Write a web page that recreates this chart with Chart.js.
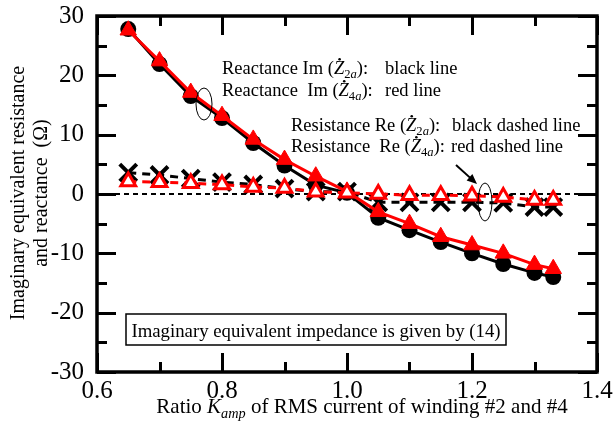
<!DOCTYPE html>
<html>
<head>
<meta charset="utf-8">
<script src="https://cdn.jsdelivr.net/npm/chart.js@4"></script>
<style>
  body { margin: 0; background: #fff; }
  canvas { display: block; }
</style>
</head>
<body>
<canvas id="chart" width="615" height="434"></canvas>
<script>
// ratio K_amp of RMS current of winding #2 and #4
const kamp = [0.65, 0.7, 0.75, 0.8, 0.85, 0.9, 0.95, 1.0, 1.05, 1.1, 1.15, 1.2, 1.25, 1.3, 1.33];

// reactance Im(Z2a) black line, Im(Z4a) red line
const imZ2a = [27.8, 21.9, 16.5, 12.8, 8.6, 4.8, 1.5, 0.2, -4.0, -6.1, -8.1, -10.0, -11.8, -13.3, -14.0];
const imZ4a = [27.6, 22.4, 17.1, 13.2, 9.2, 5.8, 3.0, 0.4, -3.0, -5.0, -7.2, -8.6, -10.0, -11.9, -12.6];

// resistance Re(Z2a) black dashed, Re(Z4a) red dashed
const reZ2a = [3.6, 3.2, 2.6, 2.0, 1.6, 0.9, 0.4, 0.4, -1.4, -1.4, -1.4, -1.4, -1.5, -2.2, -2.2];
const reZ4a = [2.1, 2.0, 1.8, 1.6, 1.2, 1.0, 0.4, 0.2, 0.0, -0.2, -0.2, -0.3, -0.5, -1.0, -1.0];

const zeroX = [0.6, 1.4];
const zeroY = [0, 0];

const xTicks = [0.6, 0.8, 1.0, 1.2, 1.4];
const yTicks = [-30, -20, -10, 0, 10, 20, 30];

const FONT = '"Liberation Serif", "Times New Roman", serif';

const pts = (xs, ys) => xs.map((x, i) => ({ x: x, y: ys[i] }));

// draws text made of parts: [text, {i: italic, sub: subscript, dot: dot above}]
function rich(ctx, x, y, parts, size) {
  parts.forEach(([t, o]) => {
    o = o || {};
    const s = o.sub ? size * 0.68 : size;
    ctx.font = (o.i ? 'italic ' : '') + s + 'px ' + FONT;
    const yy = o.sub ? y + size * 0.22 : y;
    ctx.fillText(t, x, yy);
    const w = ctx.measureText(t).width;
    if (o.dot) {
      ctx.beginPath();
      ctx.arc(x + w * 0.55, y - size * 0.8, 1.3, 0, Math.PI * 2);
      ctx.fill();
    }
    x += w;
  });
  return x;
}

function richWidth(ctx, parts, size) {
  let w = 0;
  parts.forEach(([t, o]) => {
    o = o || {};
    const s = o.sub ? size * 0.68 : size;
    ctx.font = (o.i ? 'italic ' : '') + s + 'px ' + FONT;
    w += ctx.measureText(t).width;
  });
  return w;
}

// italic Z with a dot, subscript "na"
const Z = (n) => [['Z', { i: true, dot: true }], [n, { sub: true }], ['a', { sub: true, i: true }]];

const decor = {
  id: 'decor',
  afterDraw(chart) {
    const ctx = chart.ctx;
    const a = chart.chartArea;
    const xs = chart.scales.x, ys = chart.scales.y;
    ctx.save();
    ctx.strokeStyle = '#000';
    ctx.fillStyle = '#000';
    ctx.lineCap = 'butt';

    // inward ticks on all sides
    ctx.lineWidth = 3;
    for (let v = 0.6; v <= 1.4001; v += 0.1) {
      const px = Math.round(xs.getPixelForValue(v)) + 0.5;
      const major = Math.round(v * 10) % 2 === 0;
      const len = major ? 19 : 10;
      ctx.beginPath();
      ctx.moveTo(px, a.bottom); ctx.lineTo(px, a.bottom - len);
      ctx.moveTo(px, a.top); ctx.lineTo(px, a.top + len);
      ctx.stroke();
    }
    for (let v = -30; v <= 30; v += 5) {
      const py = Math.round(ys.getPixelForValue(v)) + 0.5;
      const len = v % 10 === 0 ? 19 : 10;
      ctx.beginPath();
      ctx.moveTo(a.left, py); ctx.lineTo(a.left + len, py);
      ctx.moveTo(a.right, py); ctx.lineTo(a.right - len, py);
      ctx.stroke();
    }
    // frame
    ctx.lineWidth = 3.5;
    ctx.strokeRect(a.left, a.top, a.right - a.left, a.bottom - a.top);

    // annotations
    ctx.textBaseline = 'alphabetic';
    ctx.textAlign = 'left';
    const fs = 18.5;
    rich(ctx, 222, 74, [['Reactance Im ('], ...Z('2'), ['):']], fs);
    rich(ctx, 385, 74, [['black line']], fs);
    rich(ctx, 222, 96, [['Reactance  Im ('], ...Z('4'), ['):']], fs);
    rich(ctx, 385, 96, [['red line']], fs);
    rich(ctx, 291, 131, [['Resistance Re ('], ...Z('2'), ['):']], fs);
    rich(ctx, 452, 131, [['black dashed line']], fs);
    rich(ctx, 291, 152, [['Resistance  Re ('], ...Z('4'), ['):']], fs);
    rich(ctx, 451, 152, [['red dashed line']], fs);

    // ellipses
    ctx.lineWidth = 1;
    ctx.beginPath();
    ctx.ellipse(204, 104, 8, 16, 0, 0, Math.PI * 2);
    ctx.stroke();
    ctx.beginPath();
    ctx.ellipse(485, 202, 7, 19, 0, 0, Math.PI * 2);
    ctx.stroke();

    // arrow
    const x0 = 456, y0 = 165, x1 = 477, y1 = 184;
    const ang = Math.atan2(y1 - y0, x1 - x0);
    ctx.lineWidth = 2;
    ctx.beginPath();
    ctx.moveTo(x0, y0);
    ctx.lineTo(x1 - 8 * Math.cos(ang), y1 - 8 * Math.sin(ang));
    ctx.stroke();
    ctx.beginPath();
    ctx.moveTo(x1, y1);
    ctx.lineTo(x1 - 11 * Math.cos(ang - 0.4), y1 - 11 * Math.sin(ang - 0.4));
    ctx.lineTo(x1 - 11 * Math.cos(ang + 0.4), y1 - 11 * Math.sin(ang + 0.4));
    ctx.closePath();
    ctx.fill();

    // note box
    ctx.fillStyle = '#fff';
    ctx.fillRect(126, 314, 380, 31);
    ctx.fillStyle = '#000';
    ctx.lineWidth = 1.5;
    ctx.strokeRect(126, 314, 380, 31);
    ctx.font = '18.8px ' + FONT;
    ctx.textAlign = 'center';
    ctx.fillText('Imaginary equivalent impedance is given by (14)', 316, 337);

    // x axis title
    ctx.textAlign = 'left';
    const tparts = [['Ratio '], ['K', { i: true }], ['amp', { i: true, sub: true }], [' of RMS current of winding #2 and #4']];
    const tw = richWidth(ctx, tparts, 21);
    rich(ctx, 362 - tw / 2, 413, tparts, 21);

    // y axis title
    ctx.save();
    ctx.translate(0, 193);
    ctx.rotate(-Math.PI / 2);
    ctx.textAlign = 'center';
    ctx.font = '20px ' + FONT;
    ctx.fillText('Imaginary equivalent resistance', 0, 24);
    ctx.fillText('and reactance  (\u03A9)', 0, 47);
    ctx.restore();

    ctx.restore();
  }
};

new Chart(document.getElementById('chart').getContext('2d'), {
  type: 'scatter',
  data: {
    datasets: [
      {
        label: 'Re(Z4a)',
        data: pts(kamp, reZ4a),
        showLine: true,
        borderColor: '#ff0000',
        borderWidth: 3,
        borderDash: [8, 6],
        pointStyle: 'triangle',
        pointRadius: 8.5,
        pointBorderWidth: 3,
        pointBorderColor: '#ff0000',
        pointBackgroundColor: '#ffffff',
        order: 0
      },
      {
        label: 'Im(Z4a)',
        data: pts(kamp, imZ4a),
        showLine: true,
        borderColor: '#ff0000',
        borderWidth: 3,
        pointStyle: 'triangle',
        pointRadius: 9.5,
        pointBorderWidth: 1,
        pointBorderColor: '#ff0000',
        pointBackgroundColor: '#ff0000',
        order: 1
      },
      {
        label: 'Re(Z2a)',
        data: pts(kamp, reZ2a),
        showLine: true,
        borderColor: '#000000',
        borderWidth: 3,
        borderDash: [8, 6],
        pointStyle: 'crossRot',
        pointRadius: 12,
        pointBorderWidth: 4,
        pointBorderColor: '#000000',
        order: 2
      },
      {
        label: 'Im(Z2a)',
        data: pts(kamp, imZ2a),
        showLine: true,
        borderColor: '#000000',
        borderWidth: 3,
        pointStyle: 'circle',
        pointRadius: 8,
        pointBorderWidth: 0,
        pointBackgroundColor: '#000000',
        order: 3
      },
      {
        label: 'zero',
        data: pts(zeroX, zeroY),
        showLine: true,
        borderColor: '#000000',
        borderWidth: 2,
        borderDash: [5, 4],
        pointRadius: 0,
        order: 4
      }
    ]
  },
  options: {
    responsive: false,
    animation: false,
    devicePixelRatio: 1,
    layout: { padding: { top: 15, right: 18, left: 0, bottom: 0 } },
    plugins: { legend: { display: false }, tooltip: { enabled: false } },
    scales: {
      x: {
        type: 'linear',
        min: 0.6, max: 1.4,
        grid: { display: false, drawTicks: false },
        border: { display: false },
        afterFit: (s) => { s.height = 62; s.paddingLeft = 0; s.paddingRight = 0; },
        afterBuildTicks: (s) => { s.ticks = xTicks.map(v => ({ value: v })); },
        ticks: {
          autoSkip: false,
          maxRotation: 0,
          padding: 4,
          color: '#000',
          font: { family: FONT, size: 25 },
          callback: (v) => v.toFixed(1)
        }
      },
      y: {
        type: 'linear',
        min: -30, max: 30,
        grid: { display: false, drawTicks: false },
        border: { display: false },
        afterFit: (s) => { s.width = 97; s.paddingTop = 0; s.paddingBottom = 0; },
        afterBuildTicks: (s) => { s.ticks = yTicks.map(v => ({ value: v })); },
        ticks: {
          autoSkip: false,
          padding: 13,
          color: '#000',
          font: { family: FONT, size: 25 },
          callback: (v) => String(v)
        }
      }
    }
  },
  plugins: [decor]
});
</script>
</body>
</html>
